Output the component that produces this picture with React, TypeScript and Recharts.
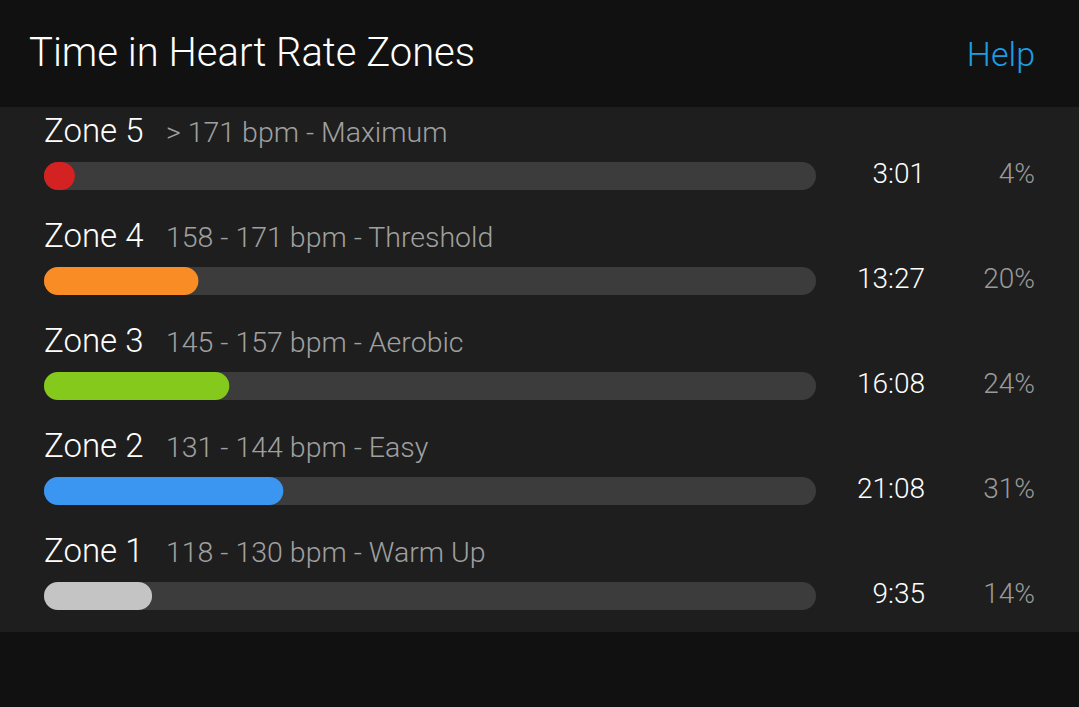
import { BarChart, Bar, XAxis, YAxis, LabelList, Cell } from "recharts";

const zones = ["Zone 5", "Zone 4", "Zone 3", "Zone 2", "Zone 1"];
const ranges = [
  "> 171 bpm - Maximum",
  "158 - 171 bpm - Threshold",
  "145 - 157 bpm - Aerobic",
  "131 - 144 bpm - Easy",
  "118 - 130 bpm - Warm Up",
];
const times = ["3:01", "13:27", "16:08", "21:08", "9:35"];
const percents = [4, 20, 24, 31, 14];
const colors = ["#d42121", "#f98c25", "#84c91c", "#3b96f1", "#c4c4c4"];

const data = zones.map((zone, i) => ({
  zone,
  range: ranges[i],
  time: times[i],
  pct: percents[i],
}));

const FONT = "Roboto, 'Noto Sans', sans-serif";

const ZoneLabel = (props: any) => {
  const { x, y, index } = props;
  return (
    <g>
      <text x={x} y={y - 20} fill="#ffffff" fontSize={33} fontWeight={300} fontFamily={FONT}>
        {zones[index]}
      </text>
      <text x={166} y={y - 20} fill="#a0a0a0" fontSize={28.5} fontWeight={300} fontFamily={FONT}>
        {ranges[index]}
      </text>
    </g>
  );
};

const TimeLabel = (props: any) => {
  const { y, index } = props;
  return (
    <g>
      <text x={925} y={y + 21} textAnchor="end" fill="#ffffff" fontSize={28} fontWeight={300} fontFamily={FONT}>
        {times[index]}
      </text>
      <text x={1035} y={y + 21} textAnchor="end" fill="#9a9a9a" fontSize={28} fontWeight={300} fontFamily={FONT}>
        {percents[index]}%
      </text>
    </g>
  );
};

export default function App() {
  return (
    <div style={{ position: "relative", width: 1079, height: 707, background: "#111111", fontFamily: FONT }}>
      <style>{`body{margin:0;background:#111111}`}</style>
      <div style={{ position: "absolute", left: 0, top: 107, width: 1079, height: 525, background: "#1e1e1e" }} />
      <div
        style={{
          position: "absolute",
          left: 29,
          top: 27,
          fontSize: 40,
          fontWeight: 300,
          color: "#ffffff",
          lineHeight: "52px",
        }}
      >
        Time in Heart Rate Zones
      </div>
      <div
        style={{
          position: "absolute",
          right: 44,
          top: 28,
          fontSize: 34,
          fontWeight: 300,
          color: "#1b9ee2",
          lineHeight: "52px",
        }}
      >
        Help
      </div>
      <div style={{ position: "absolute", left: 0, top: 0 }}>
        <BarChart
          width={1079}
          height={707}
          data={data}
          layout="vertical"
          margin={{ top: 123, right: 263, left: 44, bottom: 59 }}
        >
          <XAxis type="number" domain={[0, 100]} hide />
          <YAxis type="category" dataKey="zone" hide />
          <Bar
            dataKey="pct"
            barSize={28}
            radius={14}
            background={{ fill: "#3c3c3c", radius: 14 }}
            isAnimationActive={false}
          >
            {data.map((d, i) => (
              <Cell key={d.zone} fill={colors[i]} />
            ))}
            <LabelList dataKey="zone" content={<ZoneLabel />} />
            <LabelList dataKey="time" content={<TimeLabel />} />
          </Bar>
        </BarChart>
      </div>
    </div>
  );
}
